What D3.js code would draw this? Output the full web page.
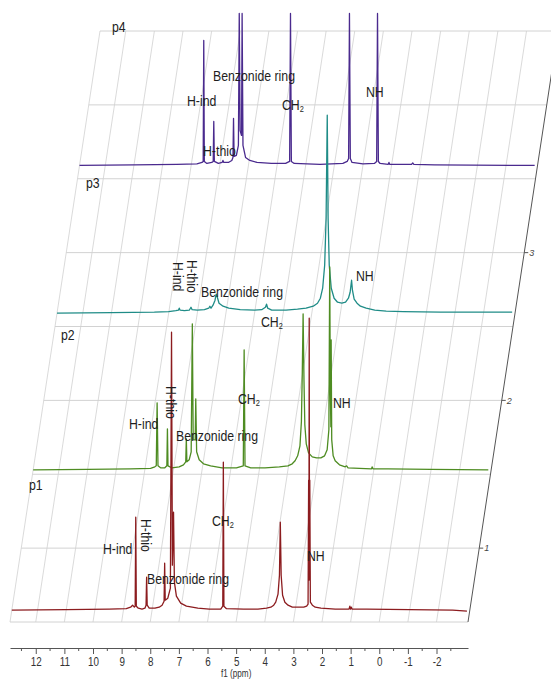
<!DOCTYPE html>
<html>
<head>
<meta charset="utf-8">
<script src="https://cdnjs.cloudflare.com/ajax/libs/d3/7.8.5/d3.min.js"></script>
<style>
  body { margin: 0; background: #fff; }
  svg text { font-family: "Liberation Sans", Arial, sans-serif; }
</style>
</head>
<body>
<div id="container"></div>
<script>
// ---- data ----
const ppmTicks = [12, 11, 10, 9, 8, 7, 6, 5, 4, 3, 2, 1, 0, -1, -2]
const depthTicks = [1, 2, 3]
const spectrumNames = ["p1", "p2", "p3", "p4"]
const peakNames = ["H-ind", "H-thio", "Benzonide ring", "CH2", "NH"]

// [ppm, intensity] points of each trace
const p1Trace = [
  [12.9,0],[11,0.5],[9.5,1],[8.9,1.5],[8.75,3],[8.68,5],[8.62,3],[8.59,4],[8.57,93],[8.55,4],[8.48,2],[8.35,1],
  [8.25,2],[8.21,5],[8.19,33],[8.17,5],[8.1,2],[7.9,2],[7.75,3],[7.65,5],[7.58,9],[7.56,47],[7.54,10],[7.45,12],
  [7.36,22],[7.32,278],[7.29,45],[7.25,98],[7.22,28],[7.15,14],[7.0,7],[6.8,4],[6.4,2],[6.0,1],[5.6,1],[5.53,4],
  [5.51,148],[5.49,4],[5.4,1.5],[4.8,1],[4.3,1],[4.0,2],[3.85,3],[3.75,5],[3.68,8],[3.6,16],[3.55,35],[3.52,88],
  [3.49,35],[3.44,15],[3.36,8],[3.25,5],[3.1,3],[2.9,3],[2.7,3],[2.6,4],[2.55,6],[2.53,130],[2.52,30],[2.51,292],
  [2.5,40],[2.49,130],[2.47,8],[2.4,5],[2.3,3],[2.1,2],[1.6,1],[1.12,1],[1.09,4],[1.07,1],[1.04,3],[1.01,1],
  [0.5,1],[-1,0.5],[-2.5,0],[-3.0,-1]
]
const p2Trace = [
  [12.9,0],[11,0.5],[9.5,1],[8.8,1.5],[8.65,3],[8.6,4],[8.57,67],[8.54,4],[8.45,2],[8.3,2],[8.23,4],[8.21,41],
  [8.19,4],[8.05,2],[7.8,3],[7.65,5],[7.57,8],[7.55,31],[7.53,8],[7.45,10],[7.38,18],[7.34,146],[7.31,30],[7.24,30],
  [7.22,71],[7.19,18],[7.1,10],[6.95,6],[6.7,4],[6.3,2],[5.8,2],[5.56,4],[5.53,120],[5.5,4],[5.3,2],[4.8,2],
  [4.3,3],[4.0,4],[3.85,6],[3.75,9],[3.66,14],[3.58,24],[3.53,48],[3.5,95],[3.47,156],[3.44,90],[3.41,45],[3.36,26],
  [3.28,17],[3.15,13],[3.0,12],[2.85,12],[2.72,14],[2.63,20],[2.57,40],[2.54,203],[2.52,80],[2.5,43],[2.49,130],
  [2.47,30],[2.42,14],[2.35,9],[2.2,5],[2.0,3],[1.95,4],[1.9,2],[1.5,1.5],[1.08,1],[1.06,3],[1.03,1],[0.5,1],
  [-1,0.5],[-3.0,0]
]
const p3Trace = [
  [12.9,0],[11,0.5],[9.5,1],[9.0,1.5],[8.75,2.5],[8.66,3],[8.63,5],[8.6,3],[8.45,2.5],[8.28,3],[8.22,6],[8.18,3.5],
  [8.0,3],[7.75,3.5],[7.6,5],[7.56,7],[7.52,5],[7.45,8],[7.38,13],[7.34,19],[7.3,16],[7.24,10],[7.1,7],[6.9,5],
  [6.5,3.5],[6.0,3],[5.75,3.5],[5.62,6],[5.58,9],[5.54,5],[5.4,3],[4.9,3],[4.5,4],[4.2,5],[3.95,7],[3.8,10],
  [3.7,15],[3.62,25],[3.55,48],[3.5,95],[3.46,198],[3.43,95],[3.39,48],[3.32,25],[3.22,15],[3.1,11],[2.95,10],
  [2.82,11],[2.72,15],[2.66,21],[2.61,33],[2.58,23],[2.52,14],[2.42,10],[2.3,7],[2.1,5],[1.8,3],[1.4,2],
  [0.8,1.5],[-0.5,1],[-3.0,1]
]
const p4Trace = [
  [12.9,0],[11,0.5],[9.5,1],[8.8,1.5],[8.62,3],[8.58,4],[8.56,125],[8.54,4],[8.45,2],[8.28,3],[8.23,4],[8.21,44],
  [8.19,4],[8.05,2],[7.92,3],[7.89,5],[7.86,3],[7.7,3],[7.58,5],[7.54,8],[7.52,47],[7.5,9],[7.42,10],[7.35,20],
  [7.32,152],[7.29,35],[7.24,30],[7.22,152],[7.19,20],[7.1,8],[6.95,5],[6.7,3],[6.2,2],[5.7,2],[5.56,4],[5.53,152],
  [5.5,4],[5.4,2],[4.5,1],[3.7,2],[3.55,4],[3.5,7],[3.47,152],[3.44,7],[3.38,3],[3.0,1.5],[2.6,2],[2.52,4],
  [2.49,152],[2.46,4],[2.4,2],[2.12,1],[2.09,3],[2.06,1],[1.3,1],[1.26,2.5],[1.22,1],[0.5,0.5],[-3.0,0]
]
const traces = [p1Trace, p2Trace, p3Trace, p4Trace]

// ---- layout ----
const W = 551, H = 680
const colors = ["#8c1c1f", "#4e8c22", "#1f8c87", "#4a2a8e"]
const spectrumDepth = [0.58, 1.53, 2.59, 3.59]
const frontY = 622, backY = 31, slant = 90 / 591
const squeeze = 0.82   // the lettering in the picture is condensed

const svg = d3.select("#container").append("svg")
  .attr("width", W).attr("height", H)
  .style("display", "block")

svg.append("rect").attr("width", W).attr("height", H).attr("fill", "#fff")

// x scale (front plane), depth scale
const xScale = d3.scaleLinear().domain([12.9, -3.1]).range([10, 468])
const depthScale = d3.scaleLinear().domain([0.5, 4.5]).range([frontY, backY])
const yScale = d3.scaleLinear().domain([0, 300]).range([0, 300])
const shift = function (y) { return (frontY - y) * slant }

// floor grid
const grid = svg.append("g").attr("id", "grid")
grid.selectAll("line.h")
  .data(d3.range(0.5, 4.51, 0.5))
  .enter().append("line")
  .attr("class", "h")
  .attr("x1", d => xScale(12.9) + shift(depthScale(d)))
  .attr("x2", d => xScale(-3.1) + shift(depthScale(d)))
  .attr("y1", d => depthScale(d))
  .attr("y2", d => depthScale(d))
  .attr("stroke", "#d2d2d2").attr("stroke-width", 1)

grid.selectAll("line.v")
  .data([12.9].concat(ppmTicks))
  .enter().append("line")
  .attr("class", "v")
  .attr("x1", d => xScale(d))
  .attr("x2", d => xScale(d) + shift(backY))
  .attr("y1", frontY)
  .attr("y2", backY)
  .attr("stroke", "#d0d0d0").attr("stroke-width", 0.8)

// depth axis (right edge)
const ax0 = xScale(-3.1)
svg.append("line")
  .attr("x1", ax0).attr("y1", frontY)
  .attr("x2", ax0 + shift(backY)).attr("y2", backY)
  .attr("stroke", "#555").attr("stroke-width", 1)

const dTicks = svg.append("g").selectAll("g")
  .data(depthTicks).enter().append("g")
  .attr("transform", d => "translate(" + (ax0 + shift(depthScale(d))) + "," + depthScale(d) + ")")
dTicks.append("line").attr("x1", 0).attr("x2", 4).attr("stroke", "#555")
dTicks.append("text")
  .attr("x", 5).attr("dy", "0.35em")
  .attr("font-size", "9px").attr("font-style", "italic").attr("fill", "#444")
  .text(d => d)

// bottom ppm axis
const axisY = 648
const xAxis = d3.axisBottom(xScale).tickValues(ppmTicks).tickSize(6).tickSizeOuter(0).tickFormat(d => String(d))
const axisG = svg.append("g")
  .attr("class", "axis-x")
  .attr("transform", "translate(0," + axisY + ")")
  .call(xAxis)
axisG.select(".domain").attr("stroke", "#555")
axisG.selectAll(".tick line").attr("stroke", "#555")
axisG.selectAll(".tick text")
  .attr("font-family", "Liberation Sans, Arial, sans-serif")
  .attr("font-size", "12px").attr("fill", "#333").attr("dy", "0.75em")
  .attr("transform", "scale(" + squeeze + ",1)")
axisG.selectAll("line.minor")
  .data(d3.range(12.5, -3, -1))
  .enter().append("line")
  .attr("class", "minor")
  .attr("x1", d => xScale(d)).attr("x2", d => xScale(d))
  .attr("y1", 0).attr("y2", 3)
  .attr("stroke", "#555")
svg.append("text")
  .attr("transform", "translate(" + xScale(5) + ",677) scale(" + squeeze + ",1)")
  .attr("text-anchor", "middle")
  .attr("font-size", "10px").attr("fill", "#333")
  .text("f1 (ppm)")

// spectra, back to front
const lines = svg.append("g")
d3.range(traces.length - 1, -1, -1).forEach(function (i) {
  const base = depthScale(spectrumDepth[i])
  const dx = shift(base)
  const line = d3.line()
    .x(d => xScale(d[0]) + dx)
    .y(d => base - yScale(d[1]))
  lines.append("path")
    .attr("d", line(traces[i]))
    .attr("fill", "none")
    .attr("stroke", colors[i])
    .attr("stroke-width", 1.3)
    .attr("stroke-linejoin", "round")
})

// spectrum names
const nameXY = [[29, 490], [61, 340], [86, 188], [112, 32]]
svg.append("g").selectAll("text")
  .data(spectrumNames).enter().append("text")
  .attr("transform", (d, i) => "translate(" + nameXY[i][0] + "," + nameXY[i][1] + ") scale(" + squeeze + ",1)")
  .attr("font-size", "15px").attr("fill", "#222")
  .text(d => d)

// peak annotations: [peak index, x, y, rotated]
const annot = [
  // p1
  [[0, 103, 554, 0], [1, 141, 519, 1], [2, 147, 584, 0], [3, 212, 526, 0], [4, 307, 561, 0]],
  // p2
  [[0, 129, 429, 0], [1, 166, 386, 1], [2, 176, 441, 0], [3, 238, 404, 0], [4, 333, 408, 0]],
  // p3
  [[0, 173, 262, 1], [1, 187, 260, 1], [2, 201, 297, 0], [3, 261, 327, 0], [4, 356, 281, 0]],
  // p4
  [[0, 187, 106, 0], [1, 203, 156, 0], [2, 213, 81, 0], [3, 282, 110, 0], [4, 366, 97, 0]]
]
const labels = svg.append("g").attr("fill", "#1e1e1e").attr("font-size", "15px")
annot.forEach(function (set) {
  set.forEach(function (a) {
    const t = labels.append("text")
      .attr("transform", "translate(" + a[1] + "," + a[2] + ")" + (a[3] ? " rotate(90)" : "") + " scale(" + squeeze + ",1)")
    const name = peakNames[a[0]]
    if (name === "CH2") {
      t.append("tspan").text("CH")
      t.append("tspan").attr("font-size", "9px").attr("dy", "2").text("2")
    } else {
      t.text(name)
    }
  })
})
</script>
</body>
</html>
